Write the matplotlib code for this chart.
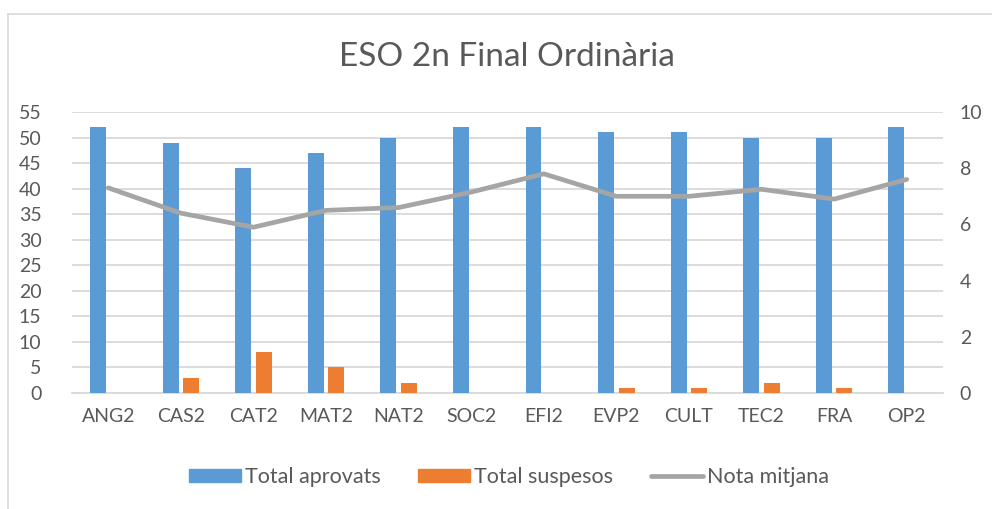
import matplotlib
matplotlib.use("Agg")
import matplotlib.pyplot as plt
from matplotlib.lines import Line2D
import numpy as np

plt.rcParams['font.family'] = ['Lato', 'DejaVu Sans']

# dades
assignatures = ['ANG2', 'CAS2', 'CAT2', 'MAT2', 'NAT2', 'SOC2', 'EFI2', 'EVP2', 'CULT', 'TEC2', 'FRA', 'OP2']
aprovats = [52, 49, 44, 47, 50, 52, 52, 51, 51, 50, 50, 52]
suspesos = [0, 3, 8, 5, 2, 0, 0, 1, 1, 2, 1, 0]
nota_mitjana = [7.3, 6.4, 5.9, 6.5, 6.6, 7.15, 7.8, 7.0, 7.0, 7.25, 6.9, 7.6]

blau = '#5B9BD5'
taronja = '#ED7D31'
gris = '#A5A5A5'
text_col = '#595959'

fig = plt.figure(figsize=(9.92, 5.09), dpi=100)
ax = fig.add_axes([72/992, 1-393/509, (943-72)/992, (393-112)/509])
ax2 = ax.twinx()

x = np.arange(len(assignatures))
amplada = 0.22
ax.bar(x - 0.142, aprovats, amplada, color=blau, zorder=3, label='Total aprovats')
ax.bar(x + 0.142, suspesos, amplada, color=taronja, zorder=3, label='Total suspesos')
ax2.plot(x, nota_mitjana, color=gris, linewidth=3.4, solid_capstyle='round', zorder=4)

ax.set_xlim(-0.5, len(assignatures) - 0.5)
ax.set_ylim(0, 55)
ax.set_yticks(range(0, 56, 5))
ax2.set_ylim(0, 10)
ax2.set_yticks(range(0, 11, 2))

ax.grid(axis='y', color='#D9D9D9', linewidth=1.3, zorder=0)
ax.set_axisbelow(True)
for a in (ax, ax2):
    for s in a.spines.values():
        s.set_visible(False)
    a.tick_params(length=0, labelsize=14, colors=text_col)
ax.spines['bottom'].set_visible(True)
ax.spines['bottom'].set_color('#D9D9D9')
ax.spines['bottom'].set_linewidth(1.3)

ax.set_xticks(x)
ax.set_xticklabels(assignatures)
ax.tick_params(axis='x', pad=11)
ax.tick_params(axis='y', pad=22)
ax2.tick_params(axis='y', pad=12)

fig.text(0.511, 1-57/509, 'ESO 2n Final Ordinària', ha='center', va='center',
         fontsize=24, color=text_col)

handles = [plt.Rectangle((0, 0), 1, 1, color=blau),
           plt.Rectangle((0, 0), 1, 1, color=taronja),
           Line2D([0], [0], color=gris, linewidth=3.4, solid_capstyle='round')]
fig.legend(handles, ['Total aprovats', 'Total suspesos', 'Nota mitjana'],
           loc='center', bbox_to_anchor=(0.513, 1-477/509), ncol=3, frameon=False,
           fontsize=15.5, labelcolor=text_col, handlelength=2.4, handleheight=0.6,
           handletextpad=0.2, columnspacing=1.75)

# vora del gràfic
fig.add_artist(Line2D([8/992, 8/992], [0, 1-14/509], color='#D9D9D9', linewidth=1.2))
fig.add_artist(Line2D([8/992, 1], [1-14/509, 1-14/509], color='#D9D9D9', linewidth=1.2))

fig.savefig('out.png', dpi=100, facecolor='white')
